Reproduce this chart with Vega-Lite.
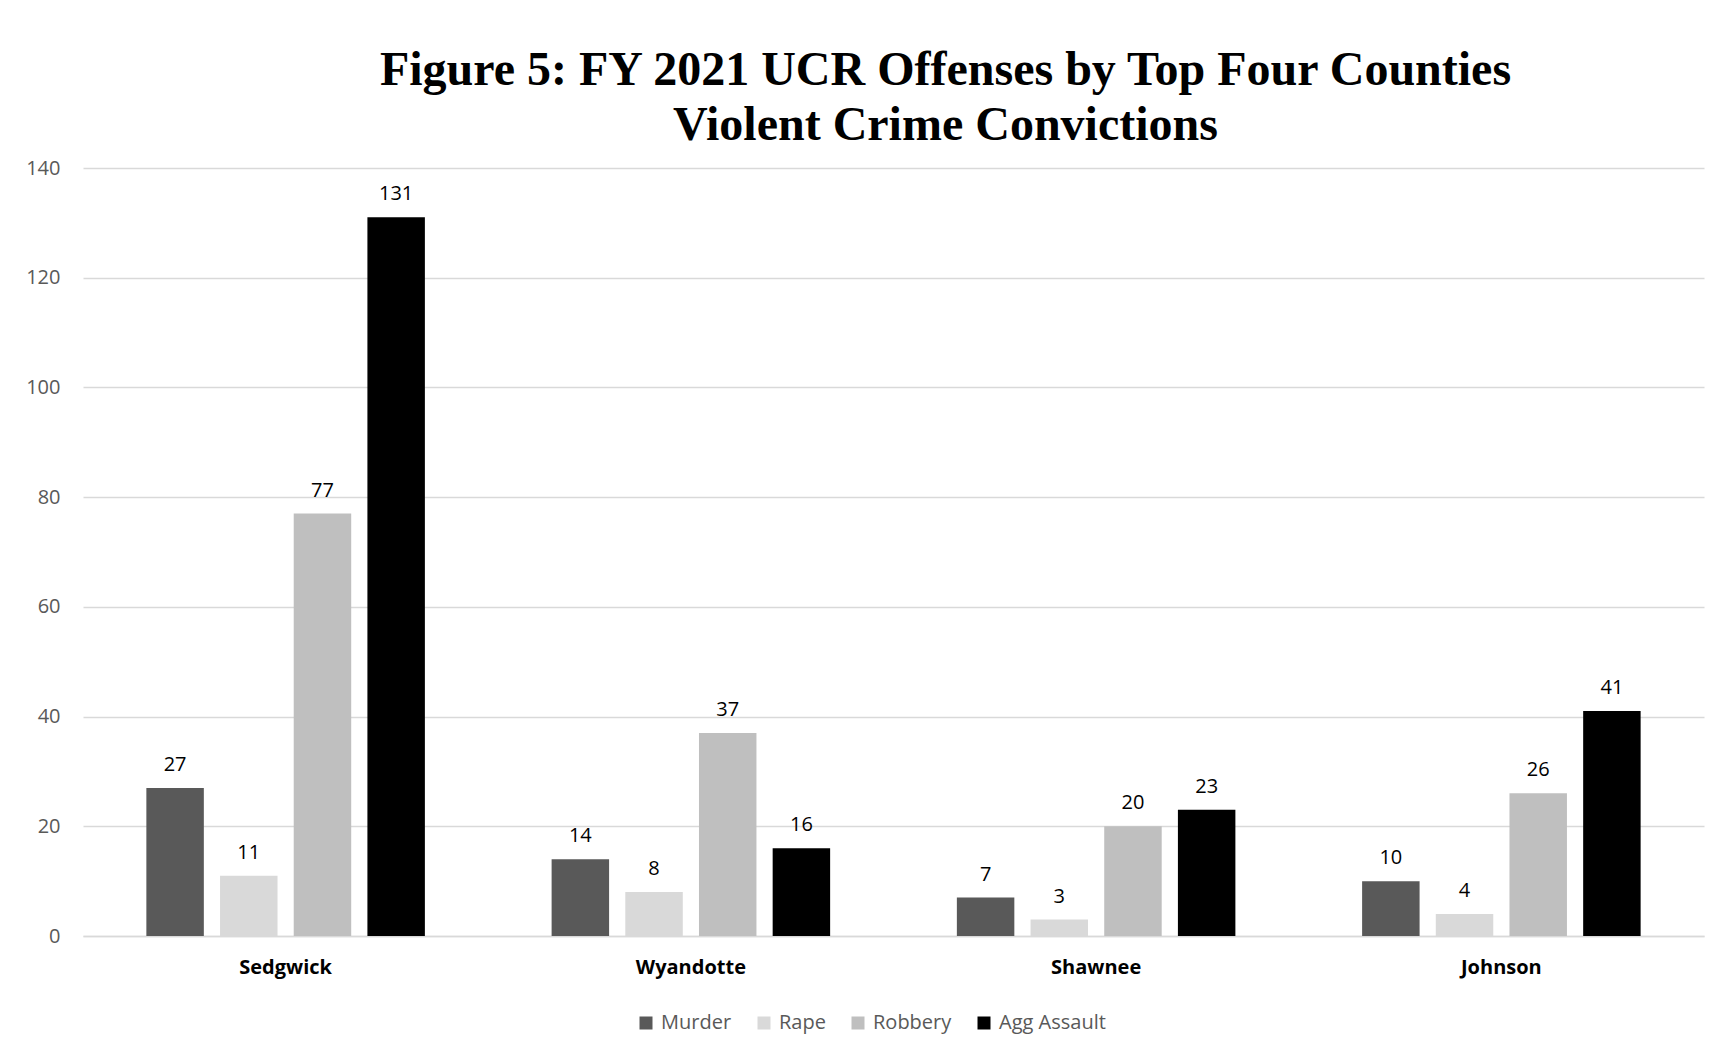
{
  "$schema": "https://vega.github.io/schema/vega-lite/v6.json",
  "autosize": {"type": "none"},
  "width": 1621,
  "height": 768,
  "padding": {"left": 83, "top": 168, "right": 22, "bottom": 117},
  "background": "white",
  "title": {
    "text": ["Figure 5: FY 2021 UCR Offenses by Top Four Counties", "Violent Crime Convictions"],
    "font": "Liberation Serif",
    "fontSize": 48,
    "fontWeight": "bold",
    "color": "#000000",
    "lineHeight": 55,
    "anchor": "middle",
    "frame": "group",
    "dx": 52,
    "offset": 8
  },
  "data": {
    "values": [
      {"county": "Sedgwick", "offense": "Murder", "count": 27},
      {"county": "Sedgwick", "offense": "Rape", "count": 11},
      {"county": "Sedgwick", "offense": "Robbery", "count": 77},
      {"county": "Sedgwick", "offense": "Agg Assault", "count": 131},
      {"county": "Wyandotte", "offense": "Murder", "count": 14},
      {"county": "Wyandotte", "offense": "Rape", "count": 8},
      {"county": "Wyandotte", "offense": "Robbery", "count": 37},
      {"county": "Wyandotte", "offense": "Agg Assault", "count": 16},
      {"county": "Shawnee", "offense": "Murder", "count": 7},
      {"county": "Shawnee", "offense": "Rape", "count": 3},
      {"county": "Shawnee", "offense": "Robbery", "count": 20},
      {"county": "Shawnee", "offense": "Agg Assault", "count": 23},
      {"county": "Johnson", "offense": "Murder", "count": 10},
      {"county": "Johnson", "offense": "Rape", "count": 4},
      {"county": "Johnson", "offense": "Robbery", "count": 26},
      {"county": "Johnson", "offense": "Agg Assault", "count": 41}
    ]
  },
  "encoding": {
    "x": {
      "field": "county",
      "type": "nominal",
      "sort": ["Sedgwick", "Wyandotte", "Shawnee", "Johnson"],
      "scale": {"paddingInner": 0, "paddingOuter": 0},
      "axis": {
        "title": null,
        "labelAngle": 0,
        "labelFont": "Open Sans",
        "labelFontSize": 20,
        "labelFontWeight": "bold",
        "labelColor": "#000000",
        "labelPadding": 21,
        "ticks": false,
        "domainColor": "#d9d9d9",
        "domainWidth": 1.5
      }
    },
    "xOffset": {
      "field": "offense",
      "type": "nominal",
      "sort": ["Murder", "Rape", "Robbery", "Agg Assault"],
      "scale": {"paddingInner": 0.22, "paddingOuter": 0.86}
    },
    "y": {
      "field": "count",
      "type": "quantitative",
      "scale": {"domain": [0, 140]},
      "axis": {
        "title": null,
        "values": [0, 20, 40, 60, 80, 100, 120, 140],
        "labelFont": "Open Sans",
        "labelFontSize": 20,
        "labelColor": "#595959",
        "labelPadding": 23,
        "ticks": false,
        "domain": false,
        "gridColor": "#d9d9d9",
        "gridWidth": 1.5
      }
    }
  },
  "layer": [
    {
      "mark": {"type": "bar"},
      "encoding": {
        "color": {
          "field": "offense",
          "type": "nominal",
          "sort": ["Murder", "Rape", "Robbery", "Agg Assault"],
          "scale": {
            "domain": ["Murder", "Rape", "Robbery", "Agg Assault"],
            "range": ["#595959", "#d9d9d9", "#bfbfbf", "#000000"]
          },
          "legend": {
            "title": null,
            "orient": "none",
            "direction": "horizontal",
            "columns": 4,
            "legendX": 553,
            "legendY": 845,
            "symbolType": "square",
            "symbolSize": 169,
            "symbolStrokeWidth": 0,
            "labelFont": "Open Sans",
            "labelFontSize": 20,
            "labelColor": "#595959",
            "labelOffset": 5,
            "columnPadding": 22
          }
        }
      }
    },
    {
      "mark": {
        "type": "text",
        "dy": -17,
        "baseline": "alphabetic",
        "font": "Open Sans",
        "fontSize": 20,
        "color": "#000000"
      },
      "encoding": {
        "text": {"field": "count", "type": "quantitative"}
      }
    }
  ],
  "config": {
    "view": {"stroke": null}
  }
}
